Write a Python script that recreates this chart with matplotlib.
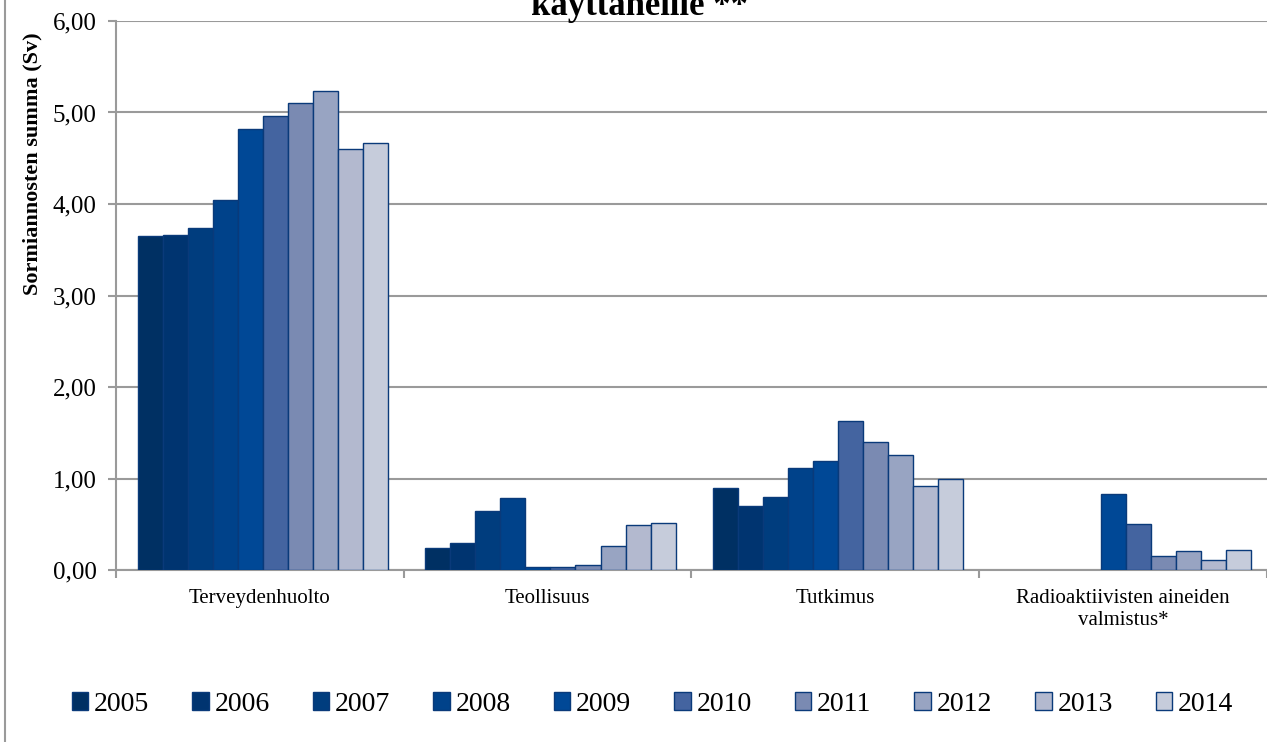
import matplotlib.pyplot as plt
import numpy as np
from matplotlib.lines import Line2D

plt.rcParams['font.family'] = ['Liberation Serif', 'DejaVu Serif']

# data
categories = ['Terveydenhuolto', 'Teollisuus', 'Tutkimus',
              'Radioaktiivisten aineiden\nvalmistus*']
years = ['2005', '2006', '2007', '2008', '2009',
         '2010', '2011', '2012', '2013', '2014']
terveys = [3.65, 3.66, 3.74, 4.04, 4.82, 4.96, 5.10, 5.24, 4.60, 4.67]
teollisuus = [0.24, 0.30, 0.64, 0.79, 0.03, 0.03, 0.05, 0.26, 0.49, 0.51]
tutkimus = [0.90, 0.70, 0.80, 1.12, 1.19, 1.63, 1.40, 1.26, 0.92, 1.00]
radio = [np.nan, np.nan, np.nan, np.nan, 0.83, 0.50, 0.15, 0.21, 0.11, 0.22]

colors = ['#003063', '#003470', '#003d7e', '#00428a', '#004896',
          '#4464a0', '#7a8ab2', '#98a4c2', '#b3b9cf', '#c6ccdb']

values = np.array([terveys, teollisuus, tutkimus, radio]).T  # years x cats

fig = plt.figure(figsize=(12.67, 7.42), dpi=100)
ax = fig.add_axes([0.0915, 0.2318, 0.9085, 0.7399])

n = len(years)
bw = 0.087
x = np.arange(len(categories)) + 0.5
for i, yr in enumerate(years):
    ax.bar(x + (i - (n - 1) / 2) * bw + 0.01, values[i], width=bw,
           color=colors[i], edgecolor='#0a3a7a', linewidth=1.0,
           label=yr, zorder=3)

ax.set_xlim(0, 4)
ax.set_ylim(0, 6)
yt = np.arange(0, 7, 1)
ax.set_yticks(yt)
ax.set_yticklabels([('%.2f' % v).replace('.', ',') for v in yt])
ax.yaxis.grid(True, color='#9a9a9a', linewidth=1.5, zorder=0)
ax.tick_params(axis='y', labelsize=18, length=6, color='#9a9a9a', width=1.5, pad=8)

ax.set_xticks([0, 1, 2, 3, 4])
ax.set_xticklabels([])
ax.set_xticks(x, minor=True)
ax.set_xticklabels(categories, minor=True, fontsize=15, linespacing=1.2)
ax.tick_params(axis='x', which='major', length=6, color='#9a9a9a', width=1.5)
ax.tick_params(axis='x', which='minor', length=0, pad=14)

for s in ['top', 'right']:
    ax.spines[s].set_visible(False)
for s in ['left', 'bottom']:
    ax.spines[s].set_color('#9a9a9a')
    ax.spines[s].set_linewidth(1.5)

ax.set_ylabel('Sormiannosten summa (Sv)', fontsize=16, fontweight='bold')
ax.yaxis.set_label_coords(-0.064, 0.74)

fig.text(0.505, 0.9798, 'käyttäneille **', fontsize=25, fontweight='bold',
         ha='center', va='baseline')

fig.legend(loc='center', bbox_to_anchor=(0.515, 0.051), ncol=10, fontsize=20,
           frameon=False, handlelength=0.6, handleheight=0.6,
           handletextpad=0.2, columnspacing=1.55)

fig.add_artist(Line2D([0.004, 0.004], [0, 1], transform=fig.transFigure,
                      color='#9a9a9a', linewidth=1.5))

fig.savefig('out.png', dpi=100)
